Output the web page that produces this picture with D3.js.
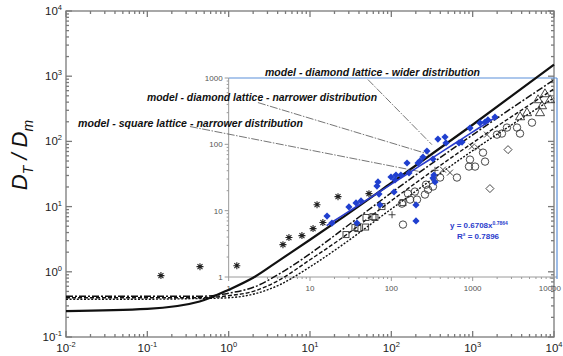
<!DOCTYPE html>
<html>
<head>
<meta charset="utf-8">
<script src="https://cdn.jsdelivr.net/npm/d3@7"></script>
<style>
  body { margin: 0; background: #fff; }
  svg { display: block; }
</style>
</head>
<body>
<svg id="chart"></svg>
<script>
const width = 563
const height = 356

// model curves, drawn on the outer axes
const modelX = [0.01, 0.1, 0.44, 1, 2.1, 4.2, 10, 23, 100, 1000, 10000]
const modelSolid = [0.25, 0.27, 0.35, 0.53, 0.84, 1.5, 3.1, 6.3, 23, 180, 1500]
const modelDashDot = [0.42, 0.42, 0.42, 0.47, 0.59, 0.93, 1.89, 4.1, 16.3, 126, 880]
const modelDash = [0.40, 0.40, 0.40, 0.43, 0.51, 0.75, 1.53, 3.1, 12.3, 95, 640]
const modelDot = [0.38, 0.38, 0.39, 0.40, 0.46, 0.63, 1.19, 2.4, 9.2, 72, 466]

// experimental points (outer axes), [x, y]
const asteriskPts = [[0.147, 0.875], [0.444, 1.2], [1.26, 1.24], [4.65, 2.61], [5.51, 3.35], [7.96, 3.59],
  [10.9, 4.6], [14.4, 5.69], [12.2, 10.7], [22.1, 14.2], [53.1, 15.8]]
const circlePts = [[139, 5.3], [135, 11.1], [170, 12.8], [160, 15.8], [195, 17], [259, 15.3], [267, 21.7],
  [283, 18.2], [325, 20.3], [398, 27.9], [641, 27.9], [901, 41.1], [1070, 41.1], [1340, 67.3], [1420, 49],
  [927, 52.6], [1990, 127], [2290, 132], [2640, 163], [3510, 163], [3820, 132], [5360, 194], [207, 12.8]]
const squarePts = [[27.7, 3.72], [35.7, 4.76], [48.8, 6.8], [62.9, 6.8], [38.8, 4.6], [76.7, 10], [59.5, 7.0],
  [139, 11.5], [48.3, 4.86]]
const plusPts = [[102, 7.5], [344, 36]]
const crossPts = [[431, 36.9], [526, 33.2], [977, 83.2], [1160, 80.4], [1500, 127]]
const trianglePts = [[3830, 240], [4660, 277], [6730, 277], [7120, 354], [6360, 438], [7740, 541], [8930, 438]]
const openDiamondPts = [[1630, 18.9], [2720, 74.8]]

// inset (Excel overlay) points, [x, y]
const blueDiamonds = [[16.2, 8.3], [18.6, 6.5], [30.1, 11.4], [36.8, 13.1], [42.4, 14.0], [37.8, 6.5],
  [66.6, 23.5], [68.5, 27.1], [70.5, 17.8], [72.5, 12.2], [99, 32.2], [114, 34.5], [131, 34.5], [108, 19.1],
  [156, 52.3], [201, 12.2], [201, 7.0], [213, 52.3], [225, 56.1], [245, 64.4], [274, 79.4], [165, 37.0],
  [325, 60.1], [325, 31.1], [344, 27.1], [334, 34.5], [374, 120], [457, 129], [470, 105], [679, 105],
  [740, 108], [927, 176], [1230, 210], [1420, 217], [1540, 233], [1880, 258], [111, 29]]
const trendA = 0.6708
const trendB = 0.7864
const trendR2 = 0.7896
const trendRange = [16, 1900]

// annotation labels and the point on the outer axes each leader line goes from/to
const labels = ["model - diamond lattice - wider distribution",
  "model - diamond lattice - narrower distribution",
  "model - square lattice - narrower distribution"]
const leaderFrom = [[51.6, 887], [2.29, 394], [0.334, 169]]
const leaderTo = [[316, 89], [298, 62.8], [225, 34.4]]

const outerMajorX = [-2, -1, 0, 1, 2, 3, 4]
const outerMajorY = [-1, 0, 1, 2, 3, 4]
const insetYTicks = ["1", "10", "100", "1000"]
const insetXTicks = ["1", "10", "100", "1000", "10000"]

const svg = d3.select("#chart")
  .attr("width", width)
  .attr("height", height)
  .attr("viewBox", [0, 0, width, height])

const x = d3.scaleLog().domain([1e-2, 1e4]).range([66, 554])
const y = d3.scaleLog().domain([1e-1, 1e4]).range([337, 11])
const xIn = d3.scaleLog().domain([1, 1e4]).range([x(1), 554])
const yIn = d3.scaleLog().domain([1, 1000]).range([277, 78])

const minors = (lo, hi) => {
  const out = []
  for (let e = lo; e < hi; e++) for (let m = 2; m <= 9; m++) out.push(m * 10 ** e)
  return out
}

// ---- outer frame and ticks
const frame = svg.append("g").attr("stroke", "#7a7a7a").attr("stroke-width", 1.3)
frame.append("rect")
  .attr("x", 66).attr("y", 11).attr("width", 488).attr("height", 326)
  .attr("fill", "none")

const xTicks = outerMajorX.map(e => ({ v: 10 ** e, len: 6 })).concat(minors(-2, 4).map(v => ({ v, len: 3 })))
const yTicks = outerMajorY.map(e => ({ v: 10 ** e, len: 6 })).concat(minors(-1, 4).map(v => ({ v, len: 3 })))

frame.selectAll(".tb").data(xTicks).join("line")
  .attr("x1", d => x(d.v)).attr("x2", d => x(d.v))
  .attr("y1", 337).attr("y2", d => 337 - d.len)
frame.selectAll(".tt").data(xTicks).join("line")
  .attr("x1", d => x(d.v)).attr("x2", d => x(d.v))
  .attr("y1", 11).attr("y2", d => 11 + d.len)
frame.selectAll(".tl").data(yTicks).join("line")
  .attr("y1", d => y(d.v)).attr("y2", d => y(d.v))
  .attr("x1", 66).attr("x2", d => 66 + d.len)
frame.selectAll(".tr").data(yTicks).join("line")
  .attr("y1", d => y(d.v)).attr("y2", d => y(d.v))
  .attr("x1", 554).attr("x2", d => 554 - d.len)

const tickFont = "'Liberation Sans', Arial, sans-serif"
const xl = svg.append("g").attr("font-family", tickFont).attr("fill", "#222")
  .selectAll("text").data(outerMajorX).join("text")
  .attr("x", d => x(10 ** d))
  .attr("y", 352)
  .attr("text-anchor", "middle")
  .attr("font-size", 11.5)
xl.append("tspan").text("10")
xl.append("tspan").attr("dy", -5).attr("font-size", 7.5).text(d => d < 0 ? "-" + (-d) : d)

const yl = svg.append("g").attr("font-family", tickFont).attr("fill", "#222")
  .selectAll("text").data(outerMajorY).join("text")
  .attr("x", 62)
  .attr("y", d => y(10 ** d) + 4)
  .attr("text-anchor", "end")
  .attr("font-size", 11.5)
yl.append("tspan").text("10")
yl.append("tspan").attr("dy", -5).attr("font-size", 7.5).text(d => d < 0 ? "-" + (-d) : d)

// y title
const title = svg.append("text")
  .attr("transform", "translate(27,155) rotate(-90)")
  .attr("text-anchor", "middle")
  .attr("font-family", tickFont)
  .attr("font-style", "italic")
  .attr("font-size", 22)
  .attr("fill", "#111")
title.append("tspan").text("D")
title.append("tspan").attr("dy", 6).attr("font-size", 14).text("T")
title.append("tspan").attr("dy", -6).text(" / D")
title.append("tspan").attr("dy", 6).attr("font-size", 14).text("m")

// ---- inset axes
const inset = svg.append("g")
inset.append("line").attr("x1", x(1)).attr("x2", x(1)).attr("y1", yIn(1000)).attr("y2", yIn(1))
  .attr("stroke", "#9a9a9a")
inset.append("line").attr("x1", x(1)).attr("x2", 557).attr("y1", yIn(1)).attr("y2", yIn(1))
  .attr("stroke", "#9a9a9a")
inset.append("line").attr("x1", x(1)).attr("x2", 557).attr("y1", yIn(1000)).attr("y2", yIn(1000))
  .attr("stroke", "#5b8fd9").attr("stroke-width", 1.2)
inset.append("line").attr("x1", 557).attr("x2", 557).attr("y1", yIn(1000)).attr("y2", yIn(1) + 2)
  .attr("stroke", "#5b8fd9").attr("stroke-width", 1.2)

const inYT = insetYTicks.map(t => ({ v: +t, len: 4 })).concat(minors(0, 3).map(v => ({ v, len: 2 })))
const inXT = insetXTicks.map(t => ({ v: +t, len: 4 })).concat(minors(0, 4).map(v => ({ v, len: 2 })))
inset.selectAll(".iy").data(inYT).join("line")
  .attr("x1", x(1)).attr("x2", d => x(1) - d.len)
  .attr("y1", d => yIn(d.v)).attr("y2", d => yIn(d.v))
  .attr("stroke", "#9a9a9a")
inset.selectAll(".ix").data(inXT).join("line")
  .attr("y1", yIn(1)).attr("y2", d => yIn(1) + d.len)
  .attr("x1", d => xIn(d.v)).attr("x2", d => xIn(d.v))
  .attr("stroke", "#9a9a9a")
inset.selectAll(".iyl").data(insetYTicks).join("text")
  .attr("x", x(1) - 6).attr("y", d => yIn(+d) + 3)
  .attr("text-anchor", "end")
  .attr("font-family", tickFont).attr("font-size", 8).attr("fill", "#555")
  .text(d => d)
// the last label sits against the right edge, as in the original
inset.selectAll(".ixl").data(insetXTicks).join("text")
  .attr("x", (d, i) => i === insetXTicks.length - 1 ? width - 2 : xIn(+d))
  .attr("y", yIn(1) + 14)
  .attr("text-anchor", (d, i) => i === insetXTicks.length - 1 ? "end" : "middle")
  .attr("font-family", tickFont).attr("font-size", 8).attr("fill", "#555")
  .text(d => d)

// ---- model curves
const line = d3.line()
  .x(d => x(d[0]))
  .y(d => y(d[1]))
  .curve(d3.curveMonotoneX)
const models = [
  { ys: modelDot, dash: "2,1.6", w: 1.4 },
  { ys: modelDash, dash: "4,2", w: 1.4 },
  { ys: modelDashDot, dash: "7,2,2,2", w: 1.5 },
  { ys: modelSolid, dash: null, w: 2.2 }
]
svg.append("g").attr("fill", "none").attr("stroke", "#111")
  .selectAll("path").data(models).join("path")
  .attr("d", d => line(modelX.map((v, i) => [v, d.ys[i]])))
  .attr("stroke-width", d => d.w)
  .attr("stroke-dasharray", d => d.dash)

// ---- labels and leader lines
const labelFont = "'Liberation Sans', Arial, sans-serif"
const labelPos = [[265, 76, 215], [147, 101, 230], [78, 127, 225]]
svg.append("g")
  .selectAll("text").data(labels).join("text")
  .attr("x", (d, i) => labelPos[i][0])
  .attr("y", (d, i) => labelPos[i][1])
  .attr("textLength", (d, i) => labelPos[i][2])
  .attr("lengthAdjust", "spacingAndGlyphs")
  .attr("font-family", labelFont)
  .attr("font-weight", "bold")
  .attr("font-style", "italic")
  .attr("font-size", 10.8)
  .attr("fill", "#111")
  .text(d => d)

svg.append("g").attr("stroke", "#666").attr("stroke-width", 0.9)
  .selectAll("line").data(leaderFrom).join("line")
  .attr("x1", d => x(d[0])).attr("y1", d => y(d[1]))
  .attr("x2", (d, i) => x(leaderTo[i][0])).attr("y2", (d, i) => y(leaderTo[i][1]))
  .attr("stroke-dasharray", "8,1.5,1.5,1.5")

// ---- experimental symbols
const sym = svg.append("g").attr("fill", "none").attr("stroke", "#333").attr("stroke-width", 0.9)
sym.selectAll(".c").data(circlePts).join("circle")
  .attr("cx", d => x(d[0])).attr("cy", d => y(d[1])).attr("r", 3.7)
sym.selectAll(".s").data(squarePts).join("rect")
  .attr("x", d => x(d[0]) - 3).attr("y", d => y(d[1]) - 3).attr("width", 6).attr("height", 6)
sym.selectAll(".t").data(trianglePts).join("path")
  .attr("transform", d => `translate(${x(d[0])},${y(d[1]) + 0.5})`)
  .attr("d", d3.symbol(d3.symbolTriangle, 36))
sym.selectAll(".d").data(openDiamondPts).join("path")
  .attr("transform", d => `translate(${x(d[0])},${y(d[1])})`)
  .attr("d", "M0,-4L4,0L0,4L-4,0Z")
sym.selectAll(".p").data(plusPts).join("path")
  .attr("transform", d => `translate(${x(d[0])},${y(d[1])})`)
  .attr("d", "M-3.5,0H3.5M0,-3.5V3.5")
sym.selectAll(".x").data(crossPts).join("path")
  .attr("transform", d => `translate(${x(d[0])},${y(d[1])})`)
  .attr("d", "M-3,-3L3,3M-3,3L3,-3")
sym.selectAll(".a").data(asteriskPts).join("path")
  .attr("transform", d => `translate(${x(d[0])},${y(d[1])})`)
  .attr("d", "M-3.5,0H3.5M0,-3.5V3.5M-2.5,-2.5L2.5,2.5M-2.5,2.5L2.5,-2.5")
  .attr("stroke", "#222").attr("stroke-width", 1.1)

// ---- inset series and trend line
const blue = "#1f3fcf"
svg.append("g").attr("fill", blue)
  .selectAll("path").data(blueDiamonds).join("path")
  .attr("transform", d => `translate(${xIn(d[0])},${yIn(d[1])})`)
  .attr("d", "M0,-3.6L3.6,0L0,3.6L-3.6,0Z")

const trendPts = d3.range(0, 1.0001, 0.05).map(t => {
  const v = trendRange[0] * (trendRange[1] / trendRange[0]) ** t
  return [v, trendA * v ** trendB]
})
svg.append("path")
  .attr("d", d3.line().x(d => xIn(d[0])).y(d => yIn(d[1]))(trendPts))
  .attr("fill", "none")
  .attr("stroke", "#2a3ccc")
  .attr("stroke-width", 1.6)

const eq = svg.append("text")
  .attr("x", 450).attr("y", 228)
  .attr("font-family", tickFont).attr("font-weight", "bold")
  .attr("font-size", 8).attr("fill", "#2a3ccc")
eq.append("tspan").text(`y = ${trendA}x`)
eq.append("tspan").attr("dy", -3).attr("font-size", 5).text(trendB)
svg.append("text")
  .attr("x", 457).attr("y", 239)
  .attr("font-family", tickFont).attr("font-weight", "bold")
  .attr("font-size", 8).attr("fill", "#2a3ccc")
  .text(`R² = ${trendR2}`)
</script>
</body>
</html>
